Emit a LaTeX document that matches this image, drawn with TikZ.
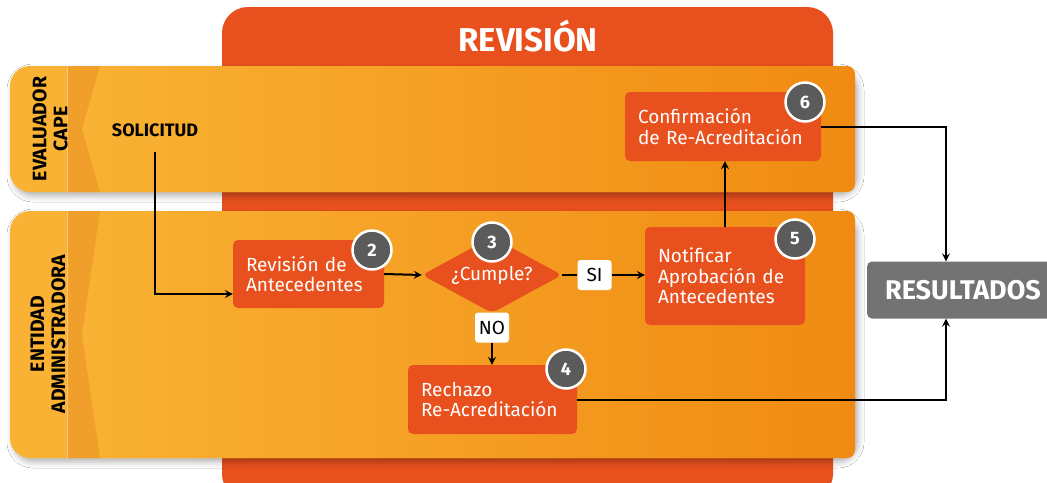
\documentclass[tikz,border=0pt]{standalone}
\usepackage{fontspec}
\setmainfont{Fira Sans}
\usetikzlibrary{shapes.geometric,shadows.blur,arrows.meta}

\definecolor{revred}{HTML}{E8501E}
\definecolor{lanelight}{HTML}{F9B233}
\definecolor{lanedark}{HTML}{F08A12}
\definecolor{lanestrip}{HTML}{F09F2A}
\definecolor{badgegray}{HTML}{5B5B5B}
\definecolor{resgray}{HTML}{737373}

\tikzset{
  procbox/.style={fill=revred, rounded corners=5pt, text=white, align=left,
    inner xsep=13pt, font=\fontsize{19}{20.5}\selectfont},
  decision/.style={diamond, aspect=1.84, fill=revred, rounded corners=6pt,
    minimum width=140pt, minimum height=76pt, inner sep=0pt, text=white,
    font=\fontsize{19}{20.5}\selectfont},
  answer/.style={fill=white, rounded corners=3pt, minimum width=34pt,
    minimum height=30pt, inner sep=2pt, font=\fontsize{19}{20}\selectfont},
  badge/.style={circle, fill=badgegray, draw=white, line width=2.5pt,
    minimum size=39pt, inner sep=0pt, text=white,
    font=\fontsize{18}{18}\selectfont\bfseries},
  lanelabel/.style={rotate=90, align=center,
    font=\fontsize{19.5}{21}\selectfont\bfseries},
  resultbox/.style={fill=resgray, rounded corners=5pt, minimum width=192pt,
    minimum height=57pt, text=white, font=\fontsize{27}{27}\selectfont\bfseries},
  flow/.style={line width=2pt, -{Stealth[length=8pt,width=8pt,inset=3pt]}},
  link/.style={line width=2pt}
}

\begin{document}
\begin{tikzpicture}[x=1pt,y=-1pt]
\useasboundingbox (0,0) rectangle (1047,482);
\clip (0,0) rectangle (1047,482);
\fill[white] (0,0) rectangle (1047,482);

% revision tab
\fill[revred, rounded corners=26pt] (222,7) rectangle (833,500);
\node[text=white, font=\fontsize{33}{33}\selectfont\bfseries] (revision) at (528,36) {REVISIÓN};

% lanes
\foreach \ya/\yb in {66/192, 211/458} {
  \fill[lanelight, rounded corners=20pt,
    blur shadow={shadow xshift=3pt, shadow yshift=-4pt, shadow opacity=30, shadow blur radius=6pt}]
    (10,\ya) rectangle (855,\yb);
  \shade[left color=lanelight, right color=lanedark, rounded corners=8pt] (82,\ya) rectangle (855,\yb);
  \fill[lanestrip] (67,\ya) -- (100,\ya) -- (82,{(\ya+\yb)/2}) -- (100,\yb) -- (67,\yb) -- cycle;
  \draw[white, opacity=0.4, line width=0.8pt] (67,\ya) -- (67,\yb);
}

\node[lanelabel] (cape) at (50,129) {EVALUADOR\\CAPE};
\node[lanelabel] (entidad) at (48,334) {ENTIDAD\\ADMINISTRADORA};
\node[font=\fontsize{18}{18}\selectfont\bfseries] (solicitud) at (155,130) {SOLICITUD};

% steps
\node[procbox, text width=125pt, minimum height=68pt] (revant) at (308.5,274) {Revisión de\\Antecedentes};
\node[decision] (cumple) at (492,275) {¿Cumple?};
\node[answer] (si) at (594.5,275) {SI};
\node[answer] (no) at (492,327.5) {NO};
\node[procbox, text width=143pt, minimum height=69pt] (rechazo) at (492.5,399.5) {Rechazo\\Re-Acreditación};
\node[procbox, text width=134pt, minimum height=98pt] (notificar) at (725,276) {Notificar\\Aprobación de\\Antecedentes};
\node[procbox, text width=170pt, minimum height=69pt] (confirma) at (723,126.5) {Confirmación\\de Re-Acreditación};
\node[resultbox] (resultados) at (963,290) {RESULTADOS};

% numbers
\node[badge] (n2) at (372,250) {2};
\node[badge] (n3) at (492,242) {3};
\node[badge] (n4) at (566,369) {4};
\node[badge] (n5) at (795,239) {5};
\node[badge] (n6) at (805,102) {6};

% connectors
\coordinate (resin) at (946,290);
\draw[flow] ([yshift=-12pt]solicitud.south) |- ([yshift=-20pt]revant.west);
\draw[flow] (revant.east) -- (cumple.west);
\draw[link] (cumple.east) -- (si.west);
\draw[flow] (si.east) -- (notificar.west |- si.east);
\draw[flow] (no.south) -- (no.south |- rechazo.north);
\draw[flow] (notificar.north) -- (notificar.north |- confirma.south);
\draw[flow] (confirma.east) -| (resin |- resultados.north);
\draw[flow] (rechazo.east) -| (resin |- resultados.south);
\end{tikzpicture}
\end{document}
